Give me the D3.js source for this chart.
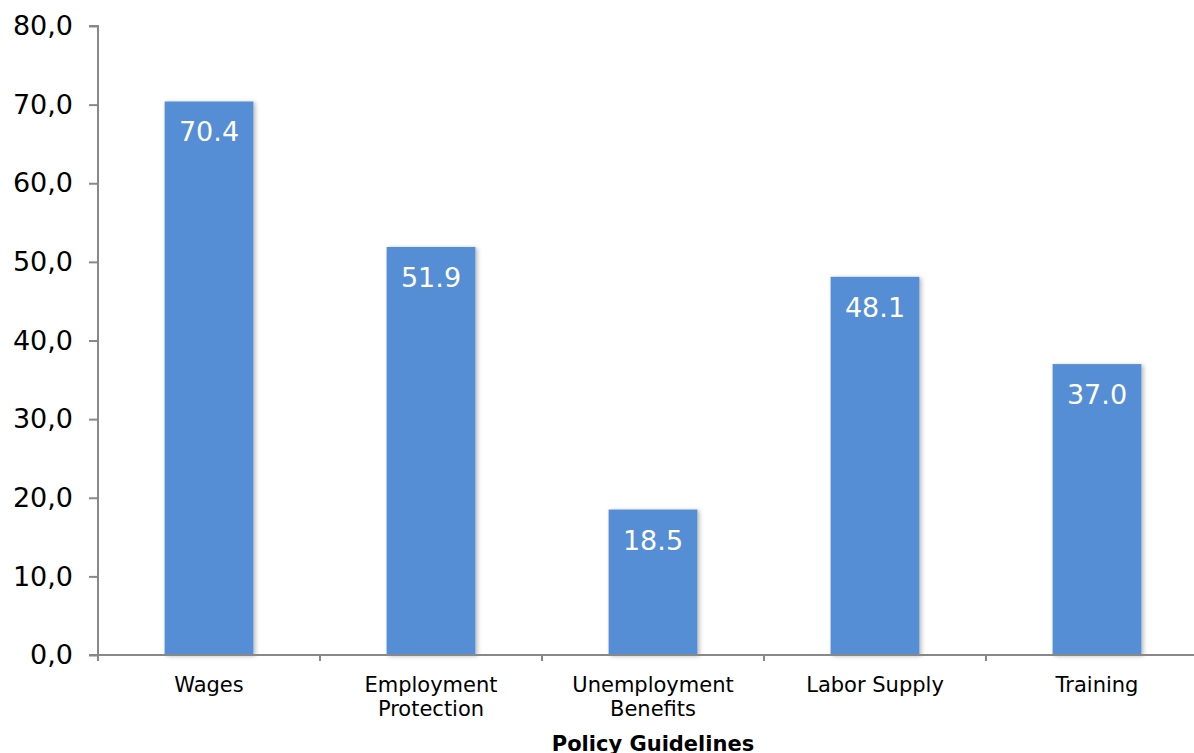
<!DOCTYPE html>
<html>
<head>
<meta charset="utf-8">
<script src="https://cdn.jsdelivr.net/npm/d3@7/dist/d3.min.js"></script>
<style>
  html, body { margin: 0; padding: 0; background: #fff; }
  svg { display: block; font-family: "DejaVu Sans", Verdana, sans-serif; }
</style>
</head>
<body>
<svg id="chart" width="1194" height="753"></svg>
<script>
const categories = [["Wages"], ["Employment", "Protection"], ["Unemployment", "Benefits"], ["Labor Supply"], ["Training"]];
const values = [70.4, 51.9, 18.5, 48.1, 37.0];
const yTicks = [0, 10, 20, 30, 40, 50, 60, 70, 80];
const xTitle = "Policy Guidelines";

const svg = d3.select("#chart");
const W = 1194, H = 753;
const x0 = 98, x1 = 1208, yTop = 26, yBot = 655;

const defs = svg.append("defs");
const f = defs.append("filter").attr("id", "shadow").attr("x", "-10%").attr("y", "-10%").attr("width", "130%").attr("height", "130%");
f.append("feDropShadow").attr("dx", 2).attr("dy", 1).attr("stdDeviation", 2).attr("flood-color", "#000").attr("flood-opacity", 0.28);

const keys = categories.map((c, i) => i);
const x = d3.scaleBand().domain(keys).range([x0, x1]).paddingInner(0.6).paddingOuter(0.3);
const y = d3.scaleLinear().domain([0, 80]).range([yBot, yTop]);

// bars
svg.append("g").selectAll("rect").data(values).join("rect")
  .attr("x", (d, i) => x(i))
  .attr("y", d => y(d))
  .attr("width", x.bandwidth())
  .attr("height", d => y(0) - y(d))
  .attr("fill", "#558ed5")
  .attr("filter", "url(#shadow)");

// value labels
svg.append("g").selectAll("text").data(values).join("text")
  .attr("x", (d, i) => x(i) + x.bandwidth() / 2)
  .attr("y", d => y(d) + 40)
  .attr("text-anchor", "middle")
  .attr("fill", "#fff")
  .attr("font-size", 27)
  .text(d => d.toFixed(1));

// y axis
const yAxis = d3.axisLeft(y).tickValues(yTicks).tickSize(9).tickPadding(16)
  .tickFormat(d => d3.format(".1f")(d).replace(".", ","));
const gy = svg.append("g").attr("transform", `translate(${x0},0)`).call(yAxis);
gy.select(".domain").attr("stroke", "#888").attr("stroke-width", 2).attr("d", `M-9,${yTop}H0V${yBot}`);
gy.selectAll(".tick line").attr("stroke", "#888").attr("stroke-width", 2);
gy.selectAll(".tick text").attr("font-size", 27).attr("fill", "#000").attr("font-family", "DejaVu Sans, Verdana, sans-serif");

// x axis
const xLine = d3.scaleLinear().domain([0, categories.length]).range([x0, x1]);
const gx = svg.append("g");
gx.append("line").attr("x1", x0 - 9).attr("x2", W).attr("y1", yBot).attr("y2", yBot)
  .attr("stroke", "#888").attr("stroke-width", 2);
gx.selectAll("line.tk").data(d3.range(categories.length + 1)).join("line").attr("class", "tk")
  .attr("x1", d => xLine(d)).attr("x2", d => xLine(d))
  .attr("y1", yBot).attr("y2", yBot + 6)
  .attr("stroke", "#888").attr("stroke-width", 2);

const lab = gx.selectAll("text.cat").data(categories).join("text").attr("class", "cat")
  .attr("text-anchor", "middle")
  .attr("font-size", 21)
  .attr("fill", "#000");
lab.each(function(lines, i) {
  const t = d3.select(this);
  lines.forEach((ln, j) => {
    t.append("tspan").attr("x", x(i) + x.bandwidth() / 2).attr("y", 692 + j * 24).text(ln);
  });
});

svg.append("text")
  .attr("x", (x0 + x1) / 2).attr("y", 751)
  .attr("text-anchor", "middle")
  .attr("font-size", 21).attr("font-weight", "bold")
  .text(xTitle);
</script>
</body>
</html>
